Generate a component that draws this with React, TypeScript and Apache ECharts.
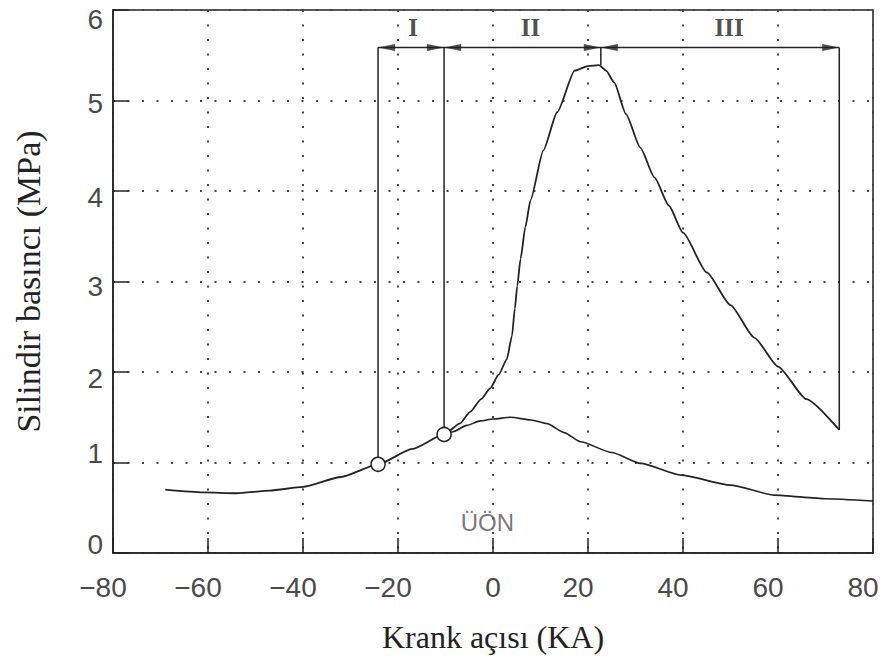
import React, { useEffect, useRef } from 'react';
import * as echarts from 'echarts';

// ---- data ----
const xMin = -80;
const xMax = 80;
const xStep = 20;
const yMin = 0;
const yMax = 6;
const yStep = 1;

// combustion (fired) cylinder pressure curve: [crank angle, MPa]
const firedCurve: [number, number][] = [
  [-69, 0.70], [-61, 0.67], [-54, 0.66], [-47, 0.69], [-40, 0.73], [-32, 0.84],
  [-24.2, 0.98], [-17, 1.15], [-10.3, 1.31], [-7, 1.43], [-4.8, 1.56],
  [-2.5, 1.70], [-0.6, 1.82], [1.2, 1.97], [2.9, 2.14], [4.0, 2.40],
  [4.6, 2.70], [5.1, 2.95], [5.8, 3.25], [6.8, 3.60], [7.9, 3.90],
  [10.6, 4.45], [13.5, 4.87], [17.2, 5.33], [20, 5.38], [22.3, 5.39],
  [23.8, 5.33], [25.5, 5.20], [28, 4.85], [31, 4.48], [34, 4.15],
  [37, 3.84], [40, 3.54], [45, 3.10], [50, 2.74], [55, 2.38],
  [60, 2.06], [66, 1.70], [72.9, 1.36],
];

// motoring curve branching off after the second marker
const motoringCurve: [number, number][] = [
  [-10.3, 1.31], [-8.4, 1.34], [-5.5, 1.41], [-2.7, 1.46], [0, 1.48],
  [3.7, 1.50], [8, 1.47], [11.4, 1.43], [15, 1.33], [18.4, 1.23],
  [25, 1.11], [31.1, 0.99], [39.6, 0.86], [50, 0.75], [59.2, 0.64],
  [70, 0.60], [80, 0.575],
];

const markerPoints: [number, number][] = [[-24.2, 0.98], [-10.3, 1.31]];

// phase boundaries (crank angle) and where their vertical lines start
const phaseBounds = [-24.2, -10.3, 22.7, 72.9];
const phaseBoundBottoms = [0.98, 1.31, 5.39, 1.36];
const bracketY = 5.585;
const phaseNames = ['I', 'II', 'III'];
const phaseLabelX = [-16.8, 7.9, 49.7];
const phaseLabelY = 5.81;

const tdcText = 'ÜÖN';
const tdcPos: [number, number] = [-1.2, 0.34];

const xTitle = 'Krank açısı (KA)';
const yTitle = 'Silindir basıncı (MPa)';

// per-label vertical nudges of the y tick labels (px, + = down)
const yLabelShift: Record<number, number> = { 0: -9, 1: -9, 2: 6, 3: 5, 4: 6, 5: 3, 6: 9 };

const INK = '#222';
const LABEL = '#4a4a4a';
const SANS = '"Liberation Sans", Arial, sans-serif';
const SERIF = '"Liberation Serif", "Times New Roman", serif';
const ARROW_W = 7;
const ARROW_L = 17;

export default function App() {
  const ref = useRef<HTMLDivElement>(null);

  useEffect(() => {
    if (!ref.current) return;
    const chart = echarts.init(ref.current, undefined, { renderer: 'svg' });

    const yRich: Record<string, any> = {};
    for (let v = yMin; v <= yMax; v += yStep) {
      const s = yLabelShift[v] || 0;
      yRich['d' + v] = {
        fontFamily: SANS,
        fontSize: 28,
        color: LABEL,
        padding: s >= 0 ? [2 * s, 0, 0, 0] : [0, 0, -2 * s, 0],
      };
    }

    const verticalSeries = phaseBounds.map((x, i) => ({
      type: 'line',
      data: [[x, phaseBoundBottoms[i]], [x, bracketY]],
      symbol: 'none',
      lineStyle: { color: INK, width: 1.5 },
      silent: true,
      z: 3,
    }));

    // arrowheads: each phase gets a left-pointing head at its start and a right-pointing head at its end
    const leftHeads = phaseNames.map((_, i) => [phaseBounds[i], bracketY]);
    const rightHeads = phaseNames.map((_, i) => [phaseBounds[i + 1], bracketY]);

    const option: any = {
      animation: false,
      grid: {
        left: 113,
        right: 11,
        top: 10,
        bottom: 113,
        show: true,
        borderColor: INK,
        borderWidth: 1.5,
        containLabel: false,
      },
      xAxis: {
        type: 'value',
        min: xMin,
        max: xMax,
        interval: xStep,
        axisLine: { onZero: false, lineStyle: { color: INK, width: 1.5 } },
        axisTick: { inside: true, length: 15, lineStyle: { color: INK, width: 1.5 } },
        axisLabel: {
          margin: 20,
          fontFamily: SANS,
          fontSize: 28,
          color: LABEL,
          formatter: (v: number) =>
            v === 0 ? '{z|0}' : '{n|' + String(v).replace('-', '\u2212') + '}',
          rich: {
            n: { fontFamily: SANS, fontSize: 28, color: LABEL, padding: [0, 20, 0, 0] },
            z: { fontFamily: SANS, fontSize: 28, color: LABEL },
          },
        },
        splitLine: {
          show: true,
          lineStyle: { color: '#444', width: 2, type: [2, 12.5] },
        },
        name: xTitle,
        nameLocation: 'middle',
        nameGap: 68,
        nameTextStyle: { fontFamily: SERIF, fontSize: 32, color: INK },
      },
      yAxis: {
        type: 'value',
        min: yMin,
        max: yMax,
        interval: yStep,
        axisLine: { show: true, onZero: false, lineStyle: { color: INK, width: 1.5 } },
        axisTick: { show: true, inside: true, length: 15, lineStyle: { color: INK, width: 1.5 } },
        axisLabel: {
          margin: 10,
          fontFamily: SANS,
          fontSize: 28,
          color: LABEL,
          formatter: (v: number) => '{d' + v + '|' + v + '}',
          rich: yRich,
        },
        splitLine: {
          show: true,
          lineStyle: { color: '#444', width: 2, type: [2, 12.5] },
        },
        name: yTitle,
        nameLocation: 'middle',
        nameRotate: 90,
        nameGap: 68,
        nameTextStyle: { fontFamily: SERIF, fontSize: 34, color: INK },
      },
      series: [
        {
          type: 'line',
          data: firedCurve,
          symbol: 'none',
          smooth: 0.2,
          smoothMonotone: 'x',
          lineStyle: { color: INK, width: 1.8 },
          silent: true,
          z: 4,
        },
        {
          type: 'line',
          data: motoringCurve,
          symbol: 'none',
          smooth: 0.2,
          smoothMonotone: 'x',
          lineStyle: { color: INK, width: 1.6 },
          silent: true,
          z: 4,
        },
        ...verticalSeries,
        {
          type: 'line',
          data: [[phaseBounds[0], bracketY], [phaseBounds[phaseBounds.length - 1], bracketY]],
          symbol: 'none',
          lineStyle: { color: INK, width: 1.5 },
          silent: true,
          z: 3,
        },
        {
          type: 'scatter',
          data: leftHeads,
          symbol: 'triangle',
          symbolSize: [ARROW_W, ARROW_L],
          symbolRotate: 90,
          symbolOffset: [ARROW_L / 2, 0],
          itemStyle: { color: INK },
          silent: true,
          z: 5,
        },
        {
          type: 'scatter',
          data: rightHeads,
          symbol: 'triangle',
          symbolSize: [ARROW_W, ARROW_L],
          symbolRotate: -90,
          symbolOffset: [-ARROW_L / 2, 0],
          itemStyle: { color: INK },
          silent: true,
          z: 5,
        },
        {
          type: 'scatter',
          data: markerPoints,
          symbol: 'circle',
          symbolSize: 14,
          itemStyle: { color: '#fff', borderColor: INK, borderWidth: 1.5, opacity: 1 },
          silent: true,
          z: 6,
        },
        {
          type: 'scatter',
          data: phaseNames.map((n, i) => ({ name: n, value: [phaseLabelX[i], phaseLabelY] })),
          symbolSize: 0,
          silent: true,
          label: {
            show: true,
            position: 'inside',
            formatter: '{b}',
            fontFamily: SERIF,
            fontWeight: 'bold',
            fontSize: 25,
            color: INK,
          },
          z: 6,
        },
        {
          type: 'scatter',
          data: [{ name: tdcText, value: tdcPos }],
          symbolSize: 0,
          silent: true,
          label: {
            show: true,
            position: 'inside',
            formatter: '{b}',
            fontFamily: SANS,
            fontSize: 24,
            color: '#555',
          },
          z: 6,
        },
      ],
    };

    chart.setOption(option);
    return () => chart.dispose();
  }, []);

  return (
    <div
      ref={ref}
      style={{ position: 'absolute', left: 0, top: 0, width: 884, height: 666, background: '#fff' }}
    />
  );
}
